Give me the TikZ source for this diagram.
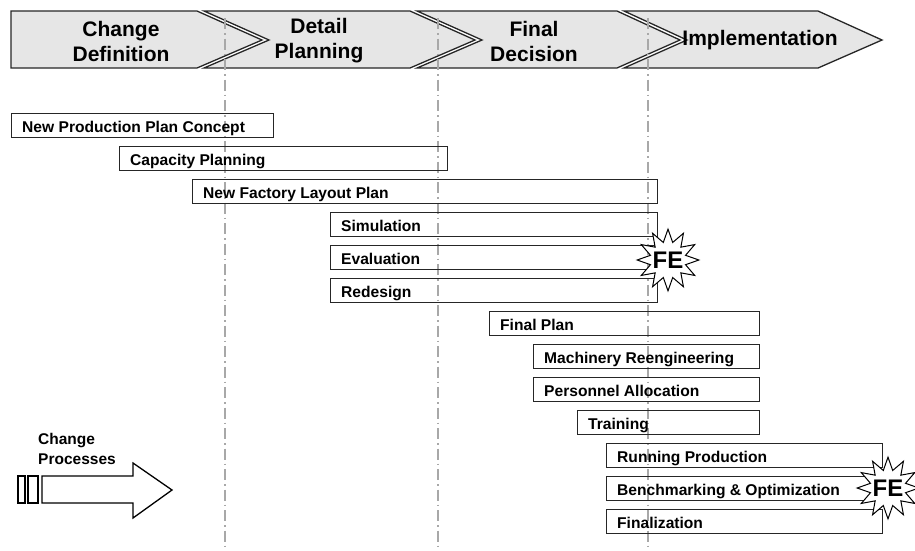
\documentclass[tikz,border=0pt]{standalone}
\usepackage{fontspec}
\setmainfont{Liberation Sans}
\usetikzlibrary{positioning,shapes.geometric}
\definecolor{phasefill}{HTML}{E6E6E6}
\definecolor{guidegray}{HTML}{A8A8A8}

\begin{document}
\begin{tikzpicture}[x=1pt, y=-1pt,
  phase/.style={draw=black!85, line width=1.3pt, fill=phasefill, line join=miter},
  phasetxt/.style={align=center, font=\bfseries\fontsize{21}{25}\selectfont, inner sep=0pt},
  guide/.style={draw=guidegray, line width=1.2pt, dash pattern=on 11pt off 4pt on 1.5pt off 4pt},
  bar/.style={draw=black!85, line width=1.2pt, anchor=north west, minimum height=24pt, inner sep=0pt},
  bartxt/.style={anchor=base west, font=\bfseries\fontsize{15.6}{18}\selectfont, inner sep=0pt},
  procarrow/.style={draw=black, line width=1.3pt, fill=white, line join=miter},
  fe/.style={star, star points=12, star point ratio=1.7, draw=black, line width=1pt, fill=white, inner sep=-2.5pt, font=\bfseries\fontsize{24}{24}\selectfont}
]
\useasboundingbox (0,0) rectangle (915,550);
\clip (0,0) rectangle (915,550);

% phases
\draw[phase] (11,11) -- (197,11) -- (262,40) -- (197,68) -- (11,68) -- cycle;
\draw[phase] (204,11) -- (410,11) -- (475,40) -- (410,68) -- (204,68) -- (269,40) -- cycle;
\draw[phase] (417,11) -- (617,11) -- (680,40) -- (617,68) -- (417,68) -- (482,40) -- cycle;
\draw[phase] (624,11) -- (818,11) -- (882,40) -- (818,68) -- (624,68) -- (687,40) -- cycle;

\foreach \x in {225,438,648}
  \draw[guide] (\x,18) -- (\x,550);

\node[phasetxt] (p1) at (121,41) {Change\\Definition};
\node[phasetxt] (p2) at (319,41) {Detail\\Planning};
\node[phasetxt] (p3) at (534,41) {Final\\Decision};
\node[phasetxt] (p4) at (760,40) {Implementation};

% gantt rows
\foreach \id/\xa/\xb/\r/\txt in {
    npc/11/273/0/New Production Plan Concept,
    cap/119/447/1/Capacity Planning,
    lay/192/657/2/New Factory Layout Plan,
    sim/330/657/3/Simulation,
    eva/330/657/4/Evaluation,
    red/330/657/5/Redesign,
    fin/489/759/6/Final Plan,
    mac/533/759/7/Machinery Reengineering,
    per/533/759/8/Personnel Allocation,
    tra/577/759/9/Training,
    run/606/882/10/Running Production,
    ben/606/882/11/Benchmarking \& Optimization,
    fnl/606/882/12/Finalization}{
  \node[bar, minimum width={(\xb-\xa)*1pt}] (\id) at (\xa,{113+33*\r}) {};
  \node[bartxt] (\id-t) at ([shift={(11,19.5)}]\id.north west) {\txt};
}

\node[fe] (fe1) at (668,260) {FE};
\node[fe] (fe2) at (888,488) {FE};

% change processes
\node[anchor=west, align=left, inner sep=0pt, font=\bfseries\fontsize{15.5}{19.5}\selectfont] (cp) at (38,449) {Change\\Processes};
\draw[procarrow] (18,476) rectangle (25,503);
\draw[procarrow] (28,476) rectangle (38,503);
\draw[procarrow] (42,476) -- (133,476) -- (133,463) -- (172,490) -- (133,518) -- (133,503) -- (42,503) -- cycle;
\end{tikzpicture}
\end{document}
